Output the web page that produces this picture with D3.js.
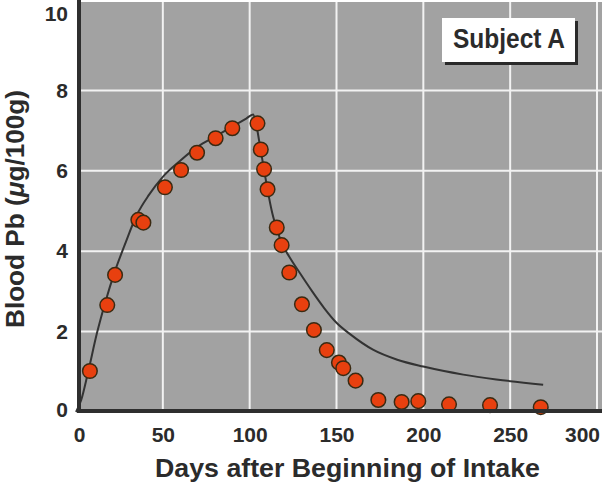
<!DOCTYPE html>
<html>
<head>
<meta charset="utf-8">
<script src="https://cdn.jsdelivr.net/npm/d3@7"></script>
<style>
  body { margin: 0; background: #fff; }
  svg text { font-family: 'Liberation Sans', Arial, sans-serif; font-weight: bold; fill: #2b2b2b; }
</style>
</head>
<body>
<svg id="chart" width="602" height="486"></svg>
<script>
// measured blood lead, Subject A
const days = [8, 18, 22.5, 35.9, 38.8, 51.2, 60.5, 69.7, 80.4, 90, 104.5, 106.4, 108.3, 110.3,
  115.6, 118.4, 122.8, 130.1, 137, 144.4, 151.4, 153.9, 161, 174.1, 187.5, 197.1, 214.8, 238.4, 267.6];
const bloodPb = [1.02, 2.66, 3.41, 4.78, 4.71, 5.59, 6.02, 6.45, 6.81, 7.06, 7.18, 6.53, 6.04, 5.54,
  4.59, 4.15, 3.47, 2.68, 2.04, 1.54, 1.23, 1.09, 0.78, 0.30, 0.25, 0.27, 0.19, 0.17, 0.12];

// model curve (uptake then washout)
const curveDays = [0, 3, 7, 12, 17, 22, 28, 35, 42, 50, 60, 70, 80, 90, 98, 102,
  104, 106, 108, 110, 113, 116, 119, 123, 129, 136, 143, 150, 158, 171, 185, 200, 223, 242, 269];
const curveVals = [0, 0.3, 1.0, 1.95, 2.75, 3.45, 4.15, 4.9, 5.4, 5.85, 6.25, 6.6, 6.85, 7.1, 7.3, 7.4,
  7.1, 6.6, 6.1, 5.6, 4.95, 4.5, 4.15, 3.85, 3.45, 3.0, 2.58, 2.22, 1.93, 1.55, 1.3, 1.13, 0.93, 0.81, 0.68];

const xTicks = [0, 50, 100, 150, 200, 250, 300];
const yTicks = [0, 2, 4, 6, 8, 10];

const svg = d3.select('#chart');

const xScale = d3.scaleLinear().domain([0, 300]).range([76, 597]);
const yScale = d3.scaleLinear().domain([0, 10]).range([412, 10]);

// shaded plot area
svg.append('rect')
  .attr('x', 79).attr('y', 2)
  .attr('width', 602 - 79).attr('height', 410)
  .attr('fill', '#a2a2a2');

// grid
const grid = svg.append('g');
grid.selectAll('.vg').data(xTicks.slice(1)).join('line')
  .attr('x1', d => xScale(d)).attr('x2', d => xScale(d))
  .attr('y1', 2).attr('y2', 411)
  .attr('stroke', '#f2f2f2').attr('stroke-width', 2);
grid.selectAll('.hg').data(yTicks.slice(1, 5)).join('line')
  .attr('x1', 79).attr('x2', 602)
  .attr('y1', d => yScale(d)).attr('y2', d => yScale(d))
  .attr('stroke', '#f2f2f2').attr('stroke-width', 2);

// model line
const line = d3.line()
  .x(d => xScale(d[0]))
  .y(d => yScale(d[1]))
  .curve(d3.curveMonotoneX);
svg.append('path')
  .attr('d', line(d3.zip(curveDays, curveVals)))
  .attr('fill', 'none')
  .attr('stroke', '#333')
  .attr('stroke-width', 2);

// points
svg.append('g').selectAll('circle').data(d3.zip(days, bloodPb)).join('circle')
  .attr('cx', d => xScale(d[0]))
  .attr('cy', d => yScale(d[1]))
  .attr('r', 7.3)
  .attr('fill', '#e8400f')
  .attr('stroke', '#3a2a12')
  .attr('stroke-width', 1.5);

// axes
const xAxis = d3.axisBottom(xScale).tickValues(xTicks).tickSize(0).tickPadding(16);
const xg = svg.append('g').attr('transform', 'translate(0,411)').call(xAxis);
xg.select('.domain').remove();
xg.selectAll('text').attr('font-size', 21).attr('fill', '#2b2b2b')
  .attr('dx', d => d === 0 ? 3 : d === 300 ? -15 : 0);

const yAxis = d3.axisLeft(yScale).tickValues(yTicks).tickSize(0).tickPadding(11);
const yg = svg.append('g').attr('transform', 'translate(79,0)').call(yAxis);
yg.select('.domain').remove();
yg.selectAll('text').attr('font-size', 21).attr('fill', '#2b2b2b')
  .attr('dy', d => d === 10 ? '0.5em' : d === 0 ? '0.2em' : '0.32em');

// axis lines
svg.append('line').attr('x1', 79).attr('x2', 79).attr('y1', 0).attr('y2', 413)
  .attr('stroke', '#2e2e2e').attr('stroke-width', 4);
svg.append('line').attr('x1', 77).attr('x2', 602).attr('y1', 411).attr('y2', 411)
  .attr('stroke', '#2e2e2e').attr('stroke-width', 4);

// axis titles
svg.append('text')
  .attr('x', 155).attr('y', 477)
  .attr('font-size', 26)
  .attr('textLength', 385).attr('lengthAdjust', 'spacingAndGlyphs')
  .text('Days after Beginning of Intake');

const yt = svg.append('text')
  .attr('transform', 'translate(24,328) rotate(-90)')
  .attr('font-size', 26)
  .attr('textLength', 238).attr('lengthAdjust', 'spacingAndGlyphs');
yt.append('tspan').text('Blood Pb (');
yt.append('tspan').attr('font-style', 'italic').text('μ');
yt.append('tspan').text('g/100g)');

// legend box
svg.append('rect').attr('x', 445).attr('y', 21).attr('width', 133).attr('height', 44).attr('fill', '#2a2a2a');
svg.append('rect').attr('x', 442).attr('y', 18).attr('width', 133).attr('height', 44).attr('fill', '#fff');
svg.append('text')
  .attr('x', 453).attr('y', 48)
  .attr('font-size', 27)
  .attr('textLength', 112).attr('lengthAdjust', 'spacingAndGlyphs')
  .text('Subject A');
</script>
</body>
</html>
